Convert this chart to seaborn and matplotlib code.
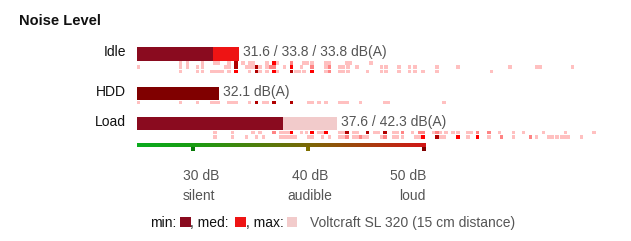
import numpy as np
import matplotlib
matplotlib.use("Agg")
import matplotlib.pyplot as plt
import seaborn as sns
from matplotlib.colors import LinearSegmentedColormap
from matplotlib.patches import Rectangle

sns.set_theme(style="white")
plt.rcParams["font.family"] = ["Liberation Sans", "DejaVu Sans"]

# ---------------- data ----------------
title = "Noise Level"
categories = ["Idle", "HDD", "Load"]
min_vals = [31.6, 32.1, 37.6]
med_vals = [33.8, None, None]
max_vals = [33.8, None, 42.3]
value_labels = ["31.6 / 33.8 / 33.8 dB(A)", "32.1 dB(A)", "37.6 / 42.3 dB(A)"]

scale_range = [25, 50]
scale_ticks = [30, 40, 50]
scale_tick_labels = ["30 dB", "40 dB", "50 dB"]
scale_words = ["silent", "audible", "loud"]
legend_labels = ["min:", ", med:", ", max:"]
legend_device = "Voltcraft SL 320 (15 cm distance)"

# other devices (dB(A)), by colour level 0=pink 1=salmon 2=red 3=dark red
idle_row1 = {0: [28.6, 29.2, 30.5, 31.6, 31.9, 32.8, 34.0, 34.6, 34.9, 36.1, 37.0, 39.3, 39.6,
                 40.0, 41.2, 41.5, 43.0, 43.3, 45.1],
             1: [38.2], 2: [36.7], 3: [33.4]}
idle_row2 = {0: [25.0, 28.6, 29.2, 30.1, 30.5, 32.5, 32.8, 34.3, 34.6, 34.9, 35.5, 36.1, 37.6,
                 39.1, 41.2, 42.4, 42.7, 43.1, 43.9, 46.0, 46.4, 47.5, 48.4, 48.9, 50.8, 52.6,
                 57.1, 59.4, 59.7, 62.5],
             1: [36.4, 36.7, 40.0, 41.5], 2: [38.2], 3: [33.4, 35.2]}
idle_row3 = {0: [28.6, 30.1, 30.5, 31.3, 31.6, 31.9, 32.2, 32.8, 34.6, 35.5, 36.1, 37.0, 38.6,
                 38.9, 39.3, 41.2, 42.4, 42.7, 43.1, 44.8, 46.0, 46.4, 47.5, 48.4, 48.9, 49.6,
                 50.8, 55.5],
             1: [41.5], 2: [33.4, 36.7, 40.0], 3: [35.2, 38.2]}
hdd_row1 = {0: [25.0, 28.6, 30.1, 31.3, 31.6, 31.9, 32.8, 33.1, 33.4, 34.6, 35.8, 36.1, 39.7,
                40.0, 40.6, 41.2, 42.4, 42.7, 43.0, 44.2, 46.3, 46.6, 51.4],
            3: [35.2, 36.7, 38.2]}
load_row1 = {0: [31.6, 33.1, 34.9, 35.5, 37.3, 37.6, 37.9, 39.1, 39.5, 40.6, 40.9, 42.4, 42.7,
                 43.6, 43.9, 45.4, 45.7, 47.1, 47.4, 48.7, 50.5, 51.1, 51.6, 52.2, 52.6, 53.5,
                 53.8, 56.2, 57.4, 58.3, 60.0, 61.9, 64.4],
             1: [36.7, 47.8, 49.3, 49.6, 50.8, 54.3, 55.3], 2: [38.2, 40.0, 41.2],
             3: [43.0, 44.8, 46.3]}
load_row2 = {0: [31.6, 33.1, 34.3, 35.2, 35.8, 37.3, 37.6, 37.9, 38.2, 38.5, 39.7, 40.0, 40.9,
                 41.5, 42.4, 42.7, 43.6, 43.9, 44.5, 44.8, 46.0, 47.1, 47.4, 47.8, 49.0, 49.3,
                 51.1, 51.4, 53.5, 55.3, 57.4, 59.4, 60.5, 60.8, 61.2, 61.6, 61.9, 62.2, 63.3],
             1: [43.0, 44.2, 46.3, 56.4, 58.9], 2: [49.6, 52.6, 54.3], 3: [50.8]}
dot_rows = [[idle_row1, idle_row2, idle_row3], [hdd_row1], [load_row1, load_row2]]

# ---------------- style / layout ----------------
W, H, DPI = 631, 241, 100
PX_PER_DB = 11.56
AX_LEFT = 137
col_min = ["#8a0b1f", "#800000", "#8a0b1f"]
col_med = "#ee1414"
col_max = "#f2cbcb"
dot_cols = {0: "#ffc0c0", 1: "#ff8484", 2: "#ff0000", 3: "#b00000"}
gray = "#555555"
bar_centers = [53.7, 93.4, 123.4]
bar_h = 13.6
row_pitch, row_h = 4.5, 3.7

fig = plt.figure(figsize=(W / DPI, H / DPI), dpi=DPI)
fig.patch.set_facecolor("white")

# overlay axes in pixel coordinates (texts, legend)
ov = fig.add_axes([0, 0, 1, 1])
ov.set_xlim(0, W)
ov.set_ylim(H, 0)
ov.axis("off")
ov.patch.set_alpha(0)

ax = fig.add_axes([AX_LEFT / W, 0, (W - AX_LEFT) / W, 1])
ax.patch.set_alpha(0)

# main bars
for i, cat in enumerate(categories):
    layers = [(max_vals[i], col_max), (med_vals[i], col_med), (min_vals[i], col_min[i])]
    for v, c in layers:
        if v is None:
            continue
        sns.barplot(x=[v], y=[bar_centers[i]], orient="h", native_scale=True,
                    width=bar_h, color=c, saturation=1, linewidth=0,
                    errorbar=None, ax=ax)

# dots of other devices
for i, rows in enumerate(dot_rows):
    top0 = bar_centers[i] + bar_h / 2 + 0.3
    for r, row in enumerate(rows):
        yc = top0 + r * row_pitch + row_h / 2
        for lvl in sorted(row):
            vals = np.array(row[lvl])
            ax.barh(y=np.full(len(vals), yc), width=0.3, left=vals, height=row_h,
                    color=dot_cols[lvl], linewidth=0, align="center")

# value labels + categories
for i, cat in enumerate(categories):
    end = max(v for v in (min_vals[i], med_vals[i], max_vals[i]) if v is not None)
    base = bar_centers[i] + 2.2
    ax.annotate(value_labels[i], xy=(end, base), xytext=(4, 0), textcoords="offset pixels",
                ha="left", va="baseline", fontsize=10, color=gray, annotation_clip=False)
    ov.text(126, base, cat, ha="right", va="baseline", fontsize=10, color="#111111")

# gradient scale
cmap = LinearSegmentedColormap.from_list(
    "noise", [(0.0, "#0aab1e"), (0.2, "#1a9c12"), (0.6, "#7c6606"), (1.0, "#d21616")])
grad = np.linspace(0, 1, 300).reshape(1, -1)
ax.imshow(grad, extent=[scale_range[0], scale_range[1], 147.2, 144.0], aspect="auto",
          cmap=cmap, interpolation="bilinear", zorder=2)
tick_cols = ["#087a08", "#7f7000", "#800000"]
for t, c in zip(scale_ticks, tick_cols):
    ax.add_patch(Rectangle((t - 0.35, 147.2), 0.35, 3.6, color=c, linewidth=0, zorder=2))

ax.set_xlim(scale_range[0], scale_range[0] + (W - AX_LEFT) / PX_PER_DB)
ax.set_ylim(H, 0)
ax.axis("off")

# scale labels
lab_x = [(201, "center"), (310, "center"), (426, "right")]
word_x = [(199, "center"), (310, "center"), (426, "right")]
for (x, ha), s in zip(lab_x, scale_tick_labels):
    ov.text(x, 180, s, ha=ha, va="baseline", fontsize=10, color=gray)
for (x, ha), s in zip(word_x, scale_words):
    ov.text(x, 200.5, s, ha=ha, va="baseline", fontsize=10, color=gray)

# title
ov.text(19, 25, title, ha="left", va="baseline", fontsize=10.5, fontweight="bold", color="#111111")

# legend
leg_text_x = [150.5, 190.5, 245.5]
leg_sq_x = [180, 235, 286.7]
leg_cols = [col_min[0], col_med, col_max]
for tx, sx, s, c in zip(leg_text_x, leg_sq_x, legend_labels, leg_cols):
    ov.text(tx, 226.8, s, ha="left", va="baseline", fontsize=10, color="#111111")
    ov.add_patch(Rectangle((sx, 216.7), 10.7, 10.7, color=c, linewidth=0))
ov.text(310, 226.8, legend_device, ha="left", va="baseline", fontsize=10, color=gray)

fig.savefig("out.png", dpi=DPI, facecolor="white")
